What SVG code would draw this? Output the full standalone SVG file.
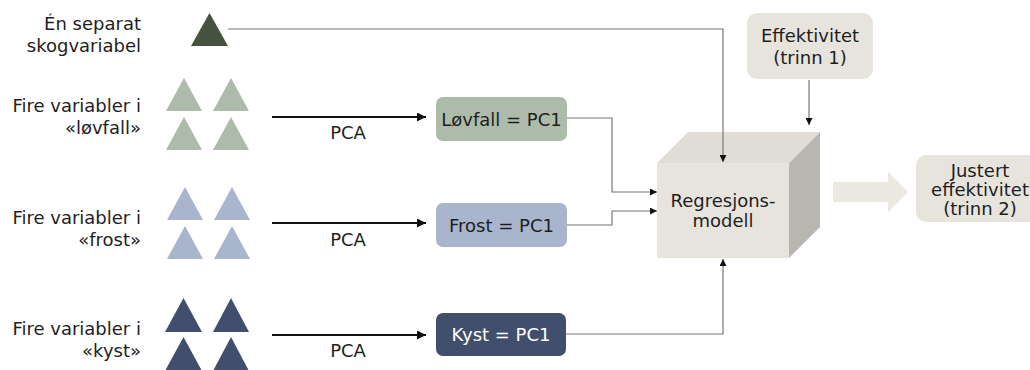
<svg xmlns="http://www.w3.org/2000/svg" width="1030" height="370" viewBox="0 0 1030 370">
<style>
text{font-family:"DejaVu Sans","Verdana",sans-serif;font-size:18px;fill:#1e1e1e}
.lbl{text-anchor:end}
.mid{text-anchor:middle}
.conn{fill:none;stroke:#777;stroke-width:1.2}
.pca{fill:none;stroke:#111;stroke-width:1.8}
.lov{fill:#adbcaa}
.fro{fill:#a9b4cd}
.kys{fill:#414f6c}
.beige{fill:#e7e4dd}
</style>
<defs>
<marker id="ah" viewBox="0 0 10 10" refX="10" refY="5" markerWidth="7" markerHeight="7" markerUnits="userSpaceOnUse" orient="auto"><path d="M0,0 L10,5 L0,10 z" fill="#111"/></marker>
<marker id="ahb" viewBox="0 0 10 10" refX="10" refY="5" markerWidth="9" markerHeight="9" markerUnits="userSpaceOnUse" orient="auto"><path d="M0,0 L10,5 L0,10 z" fill="#111"/></marker>
</defs>

<g id="labels">
<text class="lbl" x="141" y="30">Én separat</text>
<text class="lbl" x="141" y="52">skogvariabel</text>
<text class="lbl" x="141" y="112">Fire variabler i</text>
<text class="lbl" x="141" y="134">«løvfall»</text>
<text class="lbl" x="141" y="224">Fire variabler i</text>
<text class="lbl" x="141" y="246">«frost»</text>
<text class="lbl" x="141" y="335">Fire variabler i</text>
<text class="lbl" x="141" y="357">«kyst»</text>
</g>

<g id="separate-triangle"><polygon points="191,46 209.5,13 228,46" fill="#44523f"/></g>
<g id="lovfall-triangles">
<polygon class="lov" points="166,111 184,78 202,111"/>
<polygon class="lov" points="213,111 231,78 249,111"/>
<polygon class="lov" points="166,150 184,117 202,150"/>
<polygon class="lov" points="213,150 231,117 249,150"/>
</g>
<g id="frost-triangles">
<polygon class="fro" points="167,220 185,187 203,220"/>
<polygon class="fro" points="214,220 232,187 250,220"/>
<polygon class="fro" points="167,259 185,226 203,259"/>
<polygon class="fro" points="214,259 232,226 250,259"/>
</g>
<g id="kyst-triangles">
<polygon class="kys" points="165,332 183.5,298 202,332"/>
<polygon class="kys" points="213,332 231,298 249,332"/>
<polygon class="kys" points="165,371 183.5,337 202,371"/>
<polygon class="kys" points="213,371 231,337 249,371"/>
</g>

<g id="pca-labels">
<text class="mid" x="348" y="139">PCA</text>
<text class="mid" x="348" y="246">PCA</text>
<text class="mid" x="348" y="357">PCA</text>
</g>

<g id="node-lovfall">
<rect x="436" y="97" width="131" height="44" rx="7" class="lov"/>
<text class="mid" x="501.5" y="126">Løvfall = PC1</text>
</g>
<g id="node-frost">
<rect x="436" y="203" width="131" height="44" rx="7" class="fro"/>
<text class="mid" x="501.5" y="232">Frost = PC1</text>
</g>
<g id="node-kyst">
<rect x="436" y="313" width="130" height="43" rx="7" class="kys"/>
<text class="mid" x="501" y="341" style="fill:#fff">Kyst = PC1</text>
</g>

<g id="node-effektivitet">
<rect x="747" y="13" width="126" height="66" rx="10" class="beige"/>
<text class="mid" x="810" y="42">Effektivitet</text>
<text class="mid" x="810" y="64">(trinn 1)</text>
</g>

<g id="node-regresjon">
<polygon points="657,163 688,132 820,132 789,163" fill="#e0ddd6"/>
<polygon points="789,163 820,132 820,227 789,258" fill="#b9b7b1"/>
<rect x="657" y="163" width="132" height="95" class="beige"/>
<text class="mid" x="723" y="207">Regresjons-</text>
<text class="mid" x="723" y="227">modell</text>
</g>

<g id="node-justert">
<rect x="916" y="155" width="130" height="67" rx="10" class="beige"/>
<text class="mid" x="980" y="177">Justert</text>
<text class="mid" x="980" y="196">effektivitet</text>
<text class="mid" x="980" y="215">(trinn 2)</text>
</g>

<g id="connectors">
<line class="pca" x1="272" y1="117" x2="426" y2="117" marker-end="url(#ahb)"/>
<line class="pca" x1="272" y1="223" x2="426" y2="223" marker-end="url(#ahb)"/>
<line class="pca" x1="272" y1="335" x2="426" y2="335" marker-end="url(#ahb)"/>
<polyline class="conn" points="228,29 723,29 723,162" marker-end="url(#ah)"/>
<polyline class="conn" points="567,118 612,118 612,192 657,192" marker-end="url(#ah)"/>
<polyline class="conn" points="567,225 612,225 612,211 657,211" marker-end="url(#ah)"/>
<polyline class="conn" points="566,334 723,334 723,259" marker-end="url(#ah)"/>
<line class="conn" x1="809" y1="80" x2="809" y2="125" marker-end="url(#ah)"/>
<polygon points="833,182 888,182 888,172 908,192 888,212 888,202 833,202" fill="#ebe8e2"/>
</g>
</svg>
